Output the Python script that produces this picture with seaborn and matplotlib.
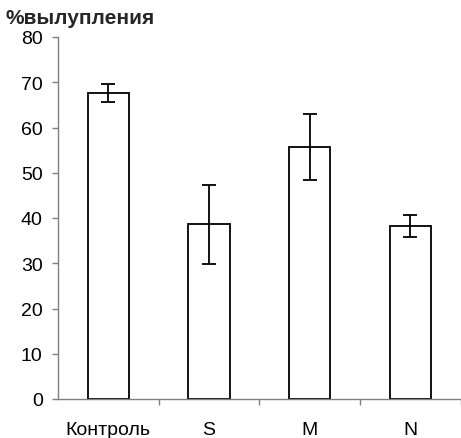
import matplotlib
matplotlib.use("Agg")
import matplotlib.pyplot as plt
import seaborn as sns
import numpy as np
import pandas as pd

categories = ["Контроль", "S", "M", "N"]
values = [67.6, 38.6, 55.7, 38.2]
errors = [2.0, 8.8, 7.3, 2.5]
y_ticks = [0, 10, 20, 30, 40, 50, 60, 70, 80]
y_title = "%вылупления"

sns.set_theme(style="white")
plt.rcParams['font.family'] = ['Liberation Sans', 'DejaVu Sans']

df = pd.DataFrame({"cat": categories, "val": values})

fig = plt.figure(figsize=(4.61, 4.39), dpi=100)
ax = fig.add_axes([58/461, 1-400/439, 1-58/461 - 0.001, (400-38)/439])

sns.barplot(data=df, x="cat", y="val", ax=ax, color="white", edgecolor="black",
            linewidth=1.3, width=0.41, errorbar=None, saturation=1)
ax.errorbar(np.arange(len(categories)), values, yerr=errors, fmt="none",
            ecolor="black", elinewidth=1.3, capsize=5, capthick=1.3)

ax.set_xlim(-0.5, 3.5)
ax.set_ylim(0, 80)
ax.set_yticks(y_ticks)
ax.set_xticks(range(len(categories)))
ax.set_xticklabels(categories)
ax.set_xticks([0.5, 1.5, 2.5, 3.5], minor=True)
ax.set_xlabel("")
ax.set_ylabel("")

for s in ["top", "right"]:
    ax.spines[s].set_visible(False)
for s in ["left", "bottom"]:
    ax.spines[s].set_color("#808080")
    ax.spines[s].set_linewidth(1.0)

ax.tick_params(axis="y", which="major", direction="out", length=4.5, width=1.0,
               color="#808080", left=True, pad=6.5, labelsize=14, labelcolor="black")
ax.tick_params(axis="x", which="major", length=0, pad=15.5, labelsize=14, labelcolor="black")
ax.tick_params(axis="x", which="minor", direction="out", length=4, width=1.0,
               color="#808080", bottom=True)

fig.text(5/461, 1-18/439, y_title, fontsize=15, fontweight="bold", ha="left", va="center")

fig.savefig("out.png", dpi=100)
